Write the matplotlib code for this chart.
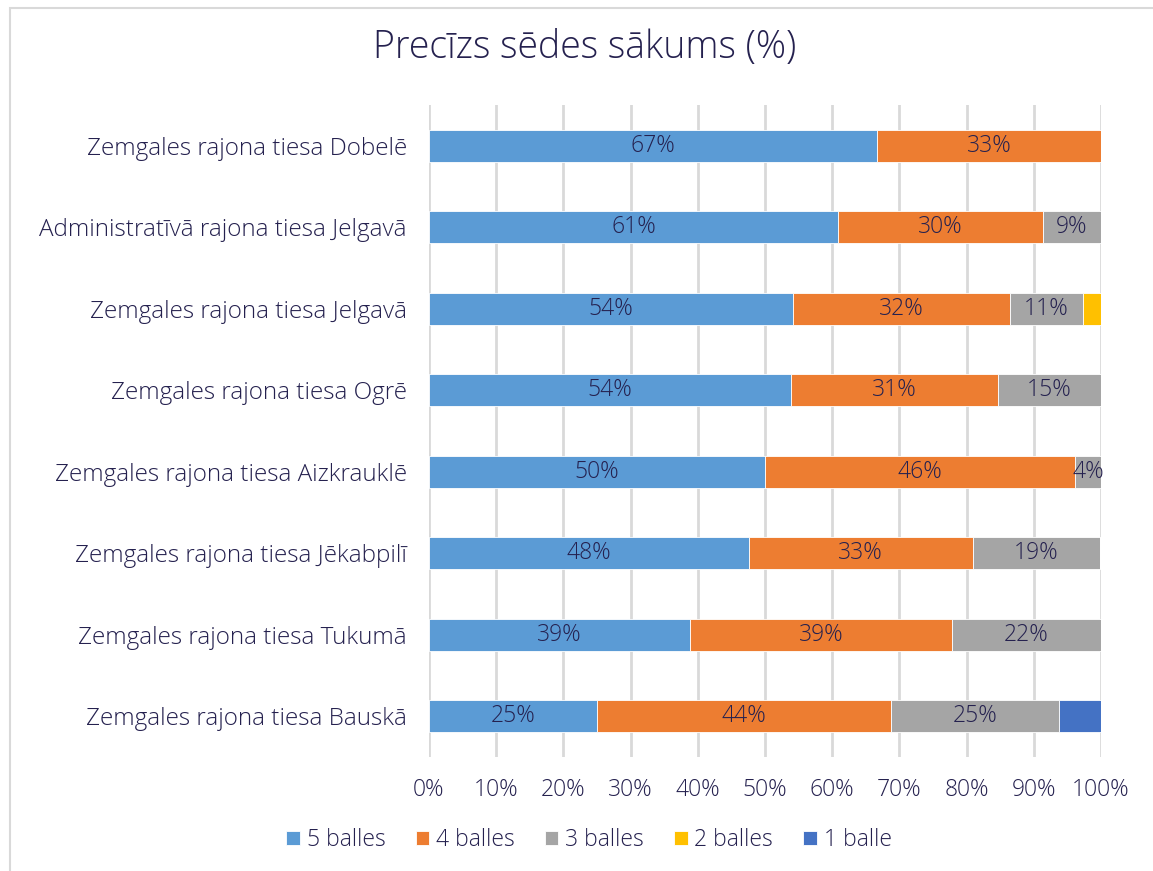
import matplotlib.pyplot as plt
from matplotlib.patches import Rectangle
import numpy as np

plt.rcParams['font.family'] = ['Open Sans', 'DejaVu Sans']
plt.rcParams['font.weight'] = 'light'

tiesas = [
    "Zemgales rajona tiesa Dobelē",
    "Administratīvā rajona tiesa Jelgavā",
    "Zemgales rajona tiesa Jelgavā",
    "Zemgales rajona tiesa Ogrē",
    "Zemgales rajona tiesa Aizkrauklē",
    "Zemgales rajona tiesa Jēkabpilī",
    "Zemgales rajona tiesa Tukumā",
    "Zemgales rajona tiesa Bauskā",
]
serijas = ["5 balles", "4 balles", "3 balles", "2 balles", "1 balle"]

balles5 = [66.7, 60.9, 54.1, 53.8, 50.0, 47.6, 38.9, 25.0]
balles4 = [33.3, 30.4, 32.4, 30.8, 46.2, 33.3, 38.9, 43.75]
balles3 = [0.0, 8.7, 10.8, 15.4, 3.8, 19.0, 22.2, 25.0]
balles2 = [0.0, 0.0, 2.7, 0.0, 0.0, 0.0, 0.0, 0.0]
balles1 = [0.0, 0.0, 0.0, 0.0, 0.0, 0.0, 0.0, 6.25]

krasas = ["#5B9BD5", "#ED7D31", "#A5A5A5", "#FFC000", "#4472C4"]
teksts = "#25214F"

fig = plt.figure(figsize=(11.53, 8.71), dpi=100)
ax = fig.add_axes([429/1153, 1-757/871, 672/1153, 652/871])

# ramis ap diagrammu
fig.patches.append(Rectangle((10/1153, -0.1), 1.2, 1.1-8/871, transform=fig.transFigure,
                             fill=False, edgecolor="#D9D9D9", linewidth=1.5))

y = np.arange(len(tiesas))
kreisa = np.zeros(len(tiesas))
dati = [balles5, balles4, balles3, balles2, balles1]
for i, (vert, kr, nos) in enumerate(zip(dati, krasas, serijas)):
    vert = np.array(vert)
    ax.barh(y, vert, left=kreisa, height=0.39, color=kr, label=nos,
            edgecolor="white", linewidth=0.6, zorder=3)
    if i < 3:
        for j, v in enumerate(vert):
            if v > 0:
                ax.text(kreisa[j] + v / 2, y[j], f"{round(v)}%", ha="center", va="center",
                        fontsize=16.5, color=teksts, zorder=4)
    kreisa = kreisa + vert

ax.set_xlim(0, 100)
ax.set_ylim(len(tiesas) - 0.5, -0.5)
ax.set_xticks(np.arange(0, 101, 10))
ax.set_xticklabels([f"{t}%" for t in range(0, 101, 10)])
ax.set_yticks(y)
ax.set_yticklabels(tiesas)
ax.tick_params(axis="x", length=0, pad=15, labelsize=16.5, labelcolor=teksts)
ax.tick_params(axis="y", length=0, pad=16, labelsize=17.5, labelcolor=teksts)
ax.grid(axis="x", color="#D9D9D9", linewidth=2, zorder=0)
for s in ax.spines.values():
    s.set_visible(False)

fig.text(585/1153, 1-48/871, "Precīzs sēdes sākums (%)", ha="center", va="center",
         fontsize=27, color=teksts)

fig.legend(loc="center", bbox_to_anchor=(589/1153, 1-840/871), ncol=5, frameon=False,
           fontsize=16.5, handlelength=0.6, handleheight=0.6, handletextpad=0.3,
           columnspacing=1.3, labelcolor=teksts)

fig.savefig("out.png", dpi=100)
